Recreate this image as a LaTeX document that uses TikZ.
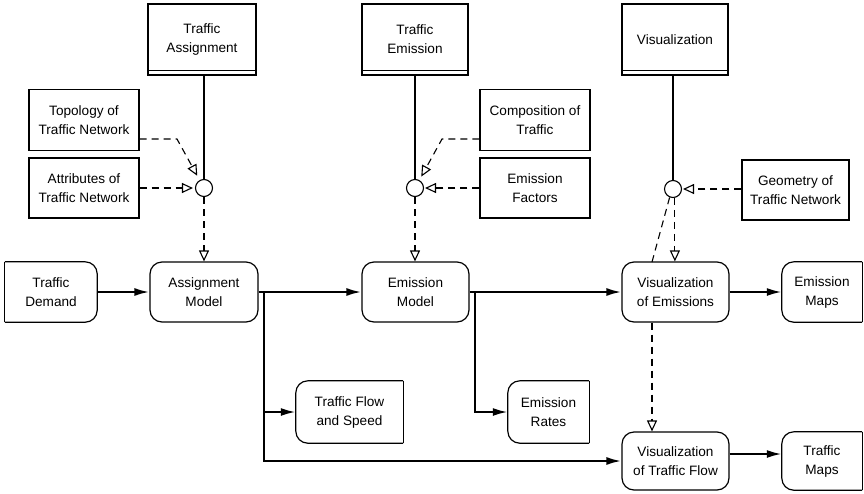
\documentclass[tikz,border=0pt]{standalone}
\usepackage{fontspec}
\setmainfont{Liberation Sans}
\usetikzlibrary{arrows.meta,calc}
\begin{document}
\begin{tikzpicture}[x=1pt,y=-1pt,
  every node/.style={font=\fontsize{13.6}{19}\selectfont, align=center, inner sep=0pt},
  topbox/.style={draw, line width=1.3pt, minimum width=108pt, minimum height=71pt},
  srcbox/.style={draw, line width=1.1pt, minimum width=110pt, minimum height=61pt},
  modelbox/.style={draw, line width=1.2pt, rounded corners=12pt, minimum width=107pt, minimum height=60pt},
  databox/.style={minimum width=#1, minimum height=60pt},
  outline/.style={line width=1.2pt, rounded corners=12pt},
  plainline/.style={line width=1.2pt},
  joint/.style={draw, circle, line width=1.1pt, minimum size=17pt},
  flow/.style={line width=2.2pt, -{Latex[length=15pt,width=8pt]}},
  ctrl/.style={dashed, dash pattern=on 7pt off 5pt, line width=1.1pt, -{Triangle[open,length=11pt,width=10pt,line width=1.1pt]}},
  ctrlline/.style={dashed, dash pattern=on 7pt off 5pt, line width=1.1pt},
  solidlink/.style={line width=1.1pt}
]
\useasboundingbox (0,0) rectangle (864,493);

% top activity boxes
\node[topbox] (ta) at (202,39.5) {Traffic\\Assignment};
\node[topbox, minimum width=106pt] (te) at (415,39.5) {Traffic\\Emission};
\node[topbox, minimum width=106pt] (vz) at (675,39.5) {Visualization};
\foreach \n in {ta,te,vz}{
  \draw[line width=1pt] ($(\n.south west)+(0,-5)$) -- ($(\n.south east)+(0,-5)$);
}

% source boxes
\node[srcbox] (topo) at (84,120) {Topology of\\Traffic Network};
\node[srcbox, minimum height=60pt] (attr) at (84,188) {Attributes of\\Traffic Network};
\node[srcbox] (comp) at (535,120) {Composition of\\Traffic};
\node[srcbox, minimum height=60pt] (ef) at (535,188) {Emission\\Factors};
\node[srcbox, minimum width=107pt, minimum height=60pt] (geo) at (795.5,190) {Geometry of\\Traffic Network};

% joints
\node[joint] (c1) at (204,188) {};
\node[joint] (c2) at (415,188) {};
\node[joint] (c3) at (673,189) {};

% models
\node[modelbox, minimum width=108pt] (am) at (204,292) {Assignment\\Model};
\node[modelbox] (em) at (415.5,292) {Emission\\Model};
\node[modelbox] (ve) at (675.5,292) {Visualization\\of Emissions};
\node[modelbox, minimum height=58pt] (vtf) at (675.5,461) {Visualization\\of Traffic Flow};

% data boxes
\node[databox=92pt] (td) at (51,292) {Traffic\\Demand};
\draw[outline] (td.north west) -- (td.north east) -- (td.south east) -- (td.south west);
\draw[plainline] (td.south west) -- (td.north west);

\node[databox=80pt] (emap) at (822,292) {Emission\\Maps};
\draw[outline] (emap.north east) -- (emap.north west) -- (emap.south west) -- (emap.south east);
\draw[plainline] (emap.south east) -- (emap.north east);

\node[databox=80pt, minimum height=58pt] (tmap) at (822,461) {Traffic\\Maps};
\draw[outline] (tmap.north east) -- (tmap.north west) -- (tmap.south west) -- (tmap.south east);
\draw[plainline] (tmap.south east) -- (tmap.north east);

\node[databox=107pt, minimum height=62pt] (tfs) at (349.5,412) {Traffic Flow\\and Speed};
\draw[outline] (tfs.north east) -- (tfs.north west) -- (tfs.south west) -- (tfs.south east);
\draw[plainline] (tfs.south east) -- (tfs.north east);

\node[databox=81pt, minimum height=62pt] (er) at (548.5,412) {Emission\\Rates};
\draw[outline] (er.north east) -- (er.north west) -- (er.south west) -- (er.south east);
\draw[plainline] (er.south east) -- (er.north east);

% solid links top box -> joint
\draw[solidlink] (c1.north) -- (c1.north |- ta.south);
\draw[solidlink] (c2.north) -- (c2.north |- te.south);
\draw[solidlink] (c3.north) -- (c3.north |- vz.south);

% main flows
\coordinate (b1) at (264,292);
\coordinate (b2) at (475,292);
\draw[flow] (td.east) -- (am.west);
\draw[flow] (am.east) -- (em.west);
\draw[flow] (b1) |- (tfs.west);
\draw[flow] (b1) |- (vtf.west);
\draw[flow] (em.east) -- (ve.west);
\draw[flow] (b2) |- (er.west);
\draw[flow] (ve.east) -- (emap.west);
\draw[flow] ([yshift=7pt]vtf.east) -- ([yshift=7pt]tmap.west);

% control (dashed) links
\coordinate (k1) at (177,139);
\coordinate (k2) at (442,139);
\draw[ctrl] (topo.east |- k1) -- (k1) -- ($(c1)!14pt!(k1)$);
\draw[ctrl, shorten >=2pt] (attr.east |- c1) -- (c1.west);
\draw[ctrl] (c1.south) -- (am.north);

\draw[ctrl] (comp.west |- k2) -- (k2) -- ($(c2)!13pt!(k2)$);
\draw[ctrl, shorten >=1pt] (ef.west |- c2) -- (c2.east);
\draw[ctrl] (c2.south) -- (c2.south |- em.north);

\draw[ctrl, shorten >=1pt] (geo.west |- c3) -- (c3.east);
\draw[ctrl] (c3.-78) -- (c3.-78 |- ve.north);
\coordinate (v1) at (652,262);
\draw[ctrlline] (c3.-112) -- (v1);
\draw[ctrl] (v1 |- ve.south) -- (v1 |- vtf.north);
\end{tikzpicture}
\end{document}
